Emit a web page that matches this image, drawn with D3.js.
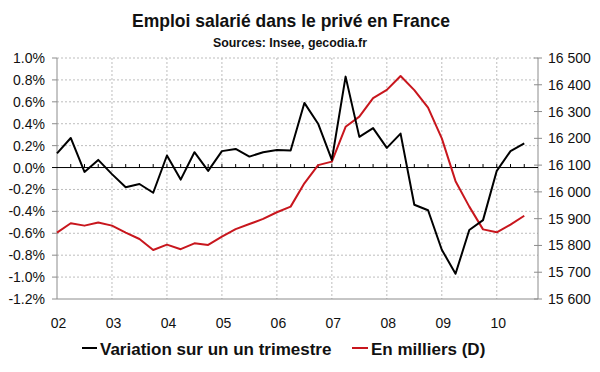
<!DOCTYPE html>
<html><head><meta charset="utf-8">
<script src="https://cdn.jsdelivr.net/npm/d3@7"></script>
<style>body{margin:0;background:#fff}svg{display:block}</style>
</head><body><svg id="c" width="600" height="372"></svg>
<script>
const years = ["02","03","04","05","06","07","08","09","10"];
const variation = [0.13,0.27,-0.04,0.07,-0.06,-0.18,-0.15,-0.23,0.11,-0.11,0.14,-0.03,0.15,0.17,0.10,0.14,0.16,0.155,0.59,0.40,0.07,0.83,0.28,0.36,0.18,0.31,-0.34,-0.39,-0.75,-0.97,-0.57,-0.48,-0.03,0.15,0.22];
const emploi = [15848,15883,15874,15886,15874,15848,15824,15783,15803,15786,15808,15802,15833,15861,15880,15899,15924,15945,16032,16100,16113,16243,16281,16350,16381,16433,16380,16315,16200,16040,15945,15860,15849,15878,15911];
const leftTicks = [1.0,0.8,0.6,0.4,0.2,0.0,-0.2,-0.4,-0.6,-0.8,-1.0,-1.2];
const rightTicks = [16500,16400,16300,16200,16100,16000,15900,15800,15700,15600];
const titleText = "Emploi salarié dans le privé en France";
const subtitleText = "Sources: Insee, gecodia.fr";
const legendLabels = ["Variation sur un un trimestre","En milliers (D)"];

const svg = d3.select("#c");
const font = "'Liberation Sans', Arial, sans-serif";
const L = 57, R = 538, T = 58, B = 299;
const nQ = 35;
const x = d3.scaleLinear().domain([0, nQ]).range([L, R]);
const yL = d3.scaleLinear().domain([-1.2, 1.0]).range([B, T]);
const yR = d3.scaleLinear().domain([15600, 16500]).range([B, T]);
const grid = "#bdbdbd", axisC = "#8c8c8c";

// horizontal gridlines
svg.append("g").selectAll("line").data(leftTicks.filter(v => v !== 0 && v !== -1.2)).join("line")
  .attr("x1", L).attr("x2", R).attr("y1", d => yL(d)).attr("y2", d => yL(d))
  .attr("stroke", grid).attr("stroke-width", 1).attr("stroke-dasharray", "2,2");
// vertical gridlines at years
const yearIdx = years.map((y, i) => i * 4);
svg.append("g").selectAll("line").data(yearIdx.filter(i => i > 0)).join("line")
  .attr("x1", d => x(d)).attr("x2", d => x(d)).attr("y1", T).attr("y2", B)
  .attr("stroke", grid).attr("stroke-width", 1).attr("stroke-dasharray", "2,2");

// axes
svg.append("line").attr("x1", L).attr("x2", L).attr("y1", T).attr("y2", B).attr("stroke", axisC);
svg.append("line").attr("x1", R).attr("x2", R).attr("y1", T).attr("y2", B).attr("stroke", axisC);
svg.append("line").attr("x1", L).attr("x2", R).attr("y1", B).attr("y2", B).attr("stroke", axisC);

// left ticks
svg.append("g").selectAll("line").data(leftTicks).join("line")
  .attr("x1", L - 5).attr("x2", L).attr("y1", d => yL(d)).attr("y2", d => yL(d))
  .attr("stroke", d => d === 0 ? "#000" : axisC);
svg.append("g").selectAll("text").data(leftTicks).join("text")
  .attr("x", 45).attr("y", d => yL(d)).attr("dy", "0.36em")
  .attr("text-anchor", "end").attr("font-family", font).attr("font-size", 14).attr("fill", "#111")
  .text(d => d.toFixed(1) + "%");

// right ticks
const fmtR = d3.formatLocale({decimal: ".", thousands: " ", grouping: [3], currency: ["", ""]}).format(",");
svg.append("g").selectAll("line").data(rightTicks).join("line")
  .attr("x1", R - 4).attr("x2", R + 4).attr("y1", d => yR(d)).attr("y2", d => yR(d))
  .attr("stroke", axisC);
svg.append("g").selectAll("text").data(rightTicks).join("text")
  .attr("x", 548).attr("y", d => yR(d)).attr("dy", "0.36em")
  .attr("font-family", font).attr("font-size", 14).attr("fill", "#111")
  .text(d => fmtR(d));

// zero line with quarter ticks
svg.append("line").attr("x1", L).attr("x2", R).attr("y1", yL(0)).attr("y2", yL(0)).attr("stroke", "#000");
svg.append("g").selectAll("line").data(d3.range(1, nQ)).join("line")
  .attr("x1", d => x(d)).attr("x2", d => x(d)).attr("y1", yL(0) - 3.5).attr("y2", yL(0))
  .attr("stroke", "#000");

// x labels
svg.append("g").selectAll("text").data(years).join("text")
  .attr("x", (d, i) => x(i * 4) + 1.5).attr("y", 328)
  .attr("text-anchor", "middle").attr("font-family", font).attr("font-size", 14).attr("fill", "#111")
  .text(d => d);

// lines
const lineL = d3.line().x((d, i) => x(i)).y(d => yL(d));
const lineR = d3.line().x((d, i) => x(i)).y(d => yR(d));
svg.append("path").datum(emploi).attr("d", lineR).attr("fill", "none")
  .attr("stroke", "#c8161d").attr("stroke-width", 2).attr("stroke-linejoin", "round");
svg.append("path").datum(variation).attr("d", lineL).attr("fill", "none")
  .attr("stroke", "#000").attr("stroke-width", 2).attr("stroke-linejoin", "round");

// title
svg.append("text").attr("x", 291).attr("y", 27).attr("text-anchor", "middle")
  .attr("font-family", font).attr("font-weight", "bold").attr("font-size", 19)
  .attr("textLength", 318).attr("lengthAdjust", "spacingAndGlyphs").attr("fill", "#111")
  .text(titleText);
svg.append("text").attr("x", 290).attr("y", 47).attr("text-anchor", "middle")
  .attr("font-family", font).attr("font-weight", "bold").attr("font-size", 13)
  .attr("textLength", 154).attr("lengthAdjust", "spacingAndGlyphs").attr("fill", "#111")
  .text(subtitleText);

// legend
const leg = [{x1: 82, x2: 97, tx: 100, c: "#000"}, {x1: 352, x2: 368, tx: 371, c: "#c8161d"}];
leg.forEach((l, i) => {
  svg.append("line").attr("x1", l.x1).attr("x2", l.x2).attr("y1", 348).attr("y2", 348)
    .attr("stroke", l.c).attr("stroke-width", 2);
  svg.append("text").attr("x", l.tx).attr("y", 355)
    .attr("font-family", font).attr("font-weight", "bold").attr("font-size", 17).attr("fill", "#111")
    .text(legendLabels[i]);
});
</script></body></html>
